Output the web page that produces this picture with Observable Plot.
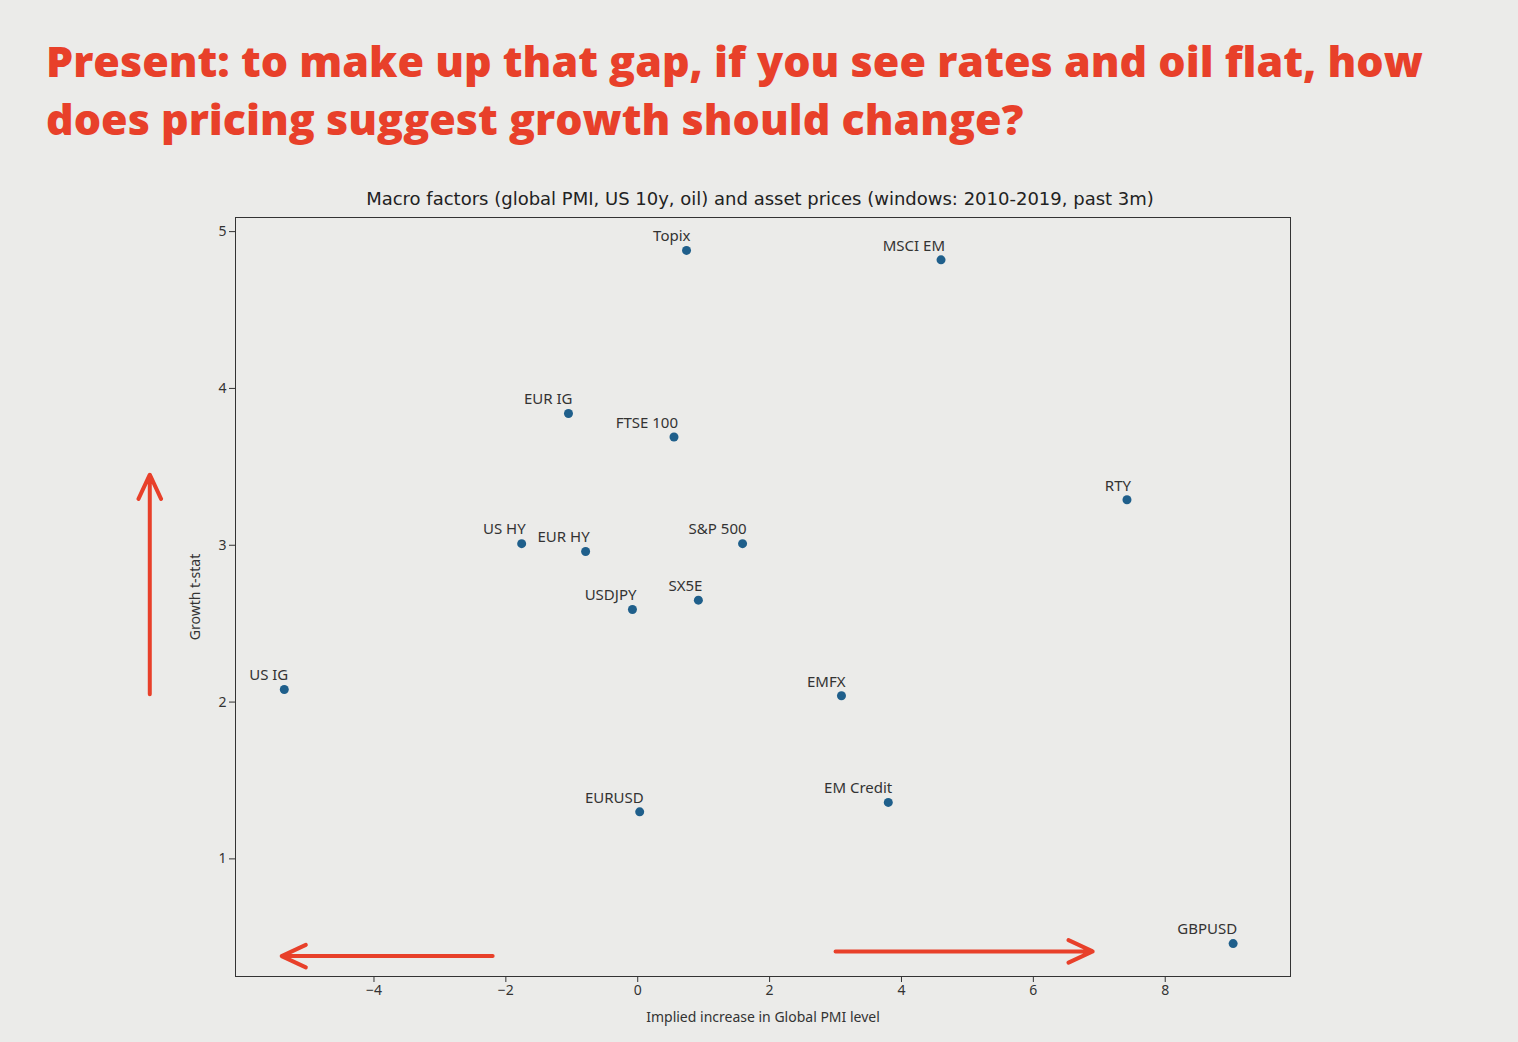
<!DOCTYPE html>
<html>
<head>
<meta charset="utf-8">
<script src="https://cdn.jsdelivr.net/npm/d3@7"></script>
<script src="https://cdn.jsdelivr.net/npm/@observablehq/plot@0.6"></script>
<style>
  body { margin: 0; background: #ebebe9; font-family: "DejaVu Sans", sans-serif; }
  h1 { margin: 0; padding: 32px 0 0 46px; color: #e8402a; font-family: "Open Sans", sans-serif;
       font-weight: 800; font-size: 43px; line-height: 58px; }
  #sub { text-align: center; font-size: 18px; color: #222; margin: 40px 0 0 0; width: 1520px; }
</style>
</head>
<body>
<h1>Present: to make up that gap, if you see rates and oil flat, how<br>does pricing suggest growth should change?</h1>
<div id="sub">Macro factors (global PMI, US 10y, oil) and asset prices (windows: 2010-2019, past 3m)</div>
<div id="chart"></div>
<script>
// assets: implied PMI increase vs growth t-stat
const assets = ["Topix", "MSCI EM", "EUR IG", "FTSE 100", "RTY", "US HY", "EUR HY", "S&P 500",
  "USDJPY", "SX5E", "US IG", "EMFX", "EURUSD", "EM Credit", "GBPUSD"];
const pmi = [0.74, 4.6, -1.05, 0.55, 7.42, -1.76, -0.79, 1.59, -0.08, 0.92, -5.36, 3.09, 0.03, 3.8, 9.03];
const tstat = [4.88, 4.82, 3.84, 3.69, 3.29, 3.01, 2.96, 3.01, 2.59, 2.65, 2.08, 2.04, 1.3, 1.36, 0.46];

const pts = assets.map((name, i) => ({name, x: pmi[i], y: tstat[i]}));

// red annotation arrows
const arrows = [
  {x1: -2.2, y1: 0.38, x2: -5.4, y2: 0.38},
  {x1: 3.0, y1: 0.41, x2: 6.9, y2: 0.41},
  {x1: -7.4, y1: 2.05, x2: -7.4, y2: 3.45}
];

const chart = Plot.plot({
  width: 1518,
  height: 822,
  marginTop: 8,
  marginLeft: 235,
  marginRight: 228,
  marginBottom: 55,
  style: {background: "transparent", fontSize: "14px", color: "#333"},
  x: {domain: [-6.1, 9.9], ticks: [-4, -2, 0, 2, 4, 6, 8], tickFormat: "d", label: "Implied increase in Global PMI level", labelArrow: "none", labelAnchor: "center", labelOffset: 45},
  y: {domain: [0.25, 5.09], ticks: [1, 2, 3, 4, 5], tickFormat: "d", label: "Growth t-stat", labelArrow: "none", labelAnchor: "center", labelOffset: 45},
  marks: [
    Plot.frame({stroke: "#333"}),
    Plot.dot(pts, {x: "x", y: "y", r: 4.5, fill: "#1f5f8b"}),
    Plot.text(pts, {x: "x", y: "y", text: "name", textAnchor: "end", dx: 4, dy: -14, fontSize: 15, fill: "#333"}),
    Plot.arrow(arrows, {x1: "x1", y1: "y1", x2: "x2", y2: "y2", stroke: "#e8402a", strokeWidth: 4, headLength: 10, headAngle: 50, clip: false})
  ]
});
document.getElementById("chart").append(chart);
</script>
</body>
</html>
